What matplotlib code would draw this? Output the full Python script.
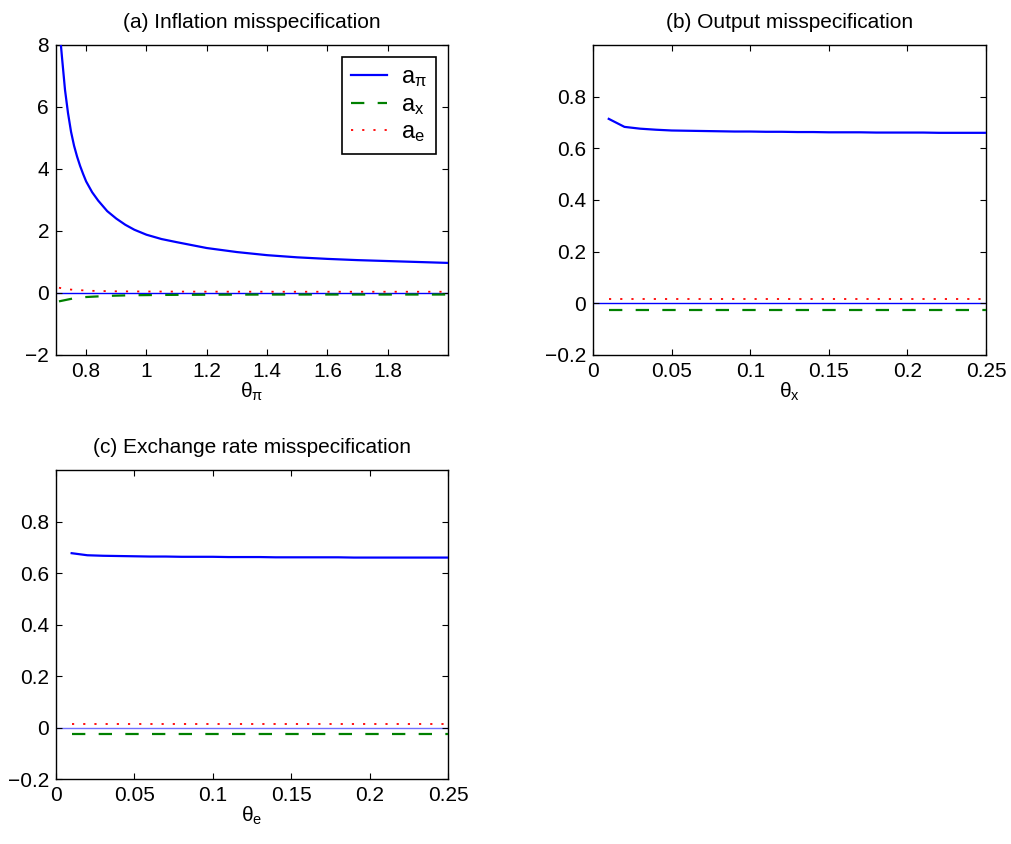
import matplotlib
matplotlib.use("Agg")
import matplotlib.pyplot as plt

plt.rcParams['font.family'] = ['Liberation Sans', 'DejaVu Sans']
plt.rcParams['mathtext.default'] = 'regular'
plt.rcParams['font.size'] = 15

# (a) inflation misspecification
theta_pi = [0.71, 0.72, 0.73, 0.74, 0.75, 0.76, 0.77, 0.78, 0.79, 0.80, 0.82, 0.84, 0.87, 0.90, 0.93, 0.96,
            1.00, 1.05, 1.10, 1.20, 1.30, 1.40, 1.50, 1.60, 1.70, 1.80, 1.90, 2.00]
a_pi_a = [8.7, 7.6, 6.55, 5.8, 5.2, 4.75, 4.4, 4.1, 3.84, 3.6, 3.25, 2.98, 2.64, 2.4, 2.2, 2.04,
          1.88, 1.74, 1.64, 1.45, 1.32, 1.22, 1.15, 1.10, 1.06, 1.03, 1.0, 0.97]
a_x_a = [-0.27, -0.25, -0.23, -0.21, -0.19, -0.17, -0.16, -0.15, -0.14, -0.13, -0.12, -0.11, -0.095, -0.085,
         -0.078, -0.072, -0.068, -0.063, -0.06, -0.056, -0.053, -0.051, -0.05, -0.05, -0.05, -0.05, -0.05, -0.05]
a_e_a = [0.17, 0.15, 0.14, 0.12, 0.11, 0.10, 0.095, 0.09, 0.085, 0.08, 0.07, 0.065, 0.06, 0.055,
         0.052, 0.05, 0.048, 0.046, 0.045, 0.043, 0.042, 0.041, 0.04, 0.04, 0.04, 0.04, 0.04, 0.04]

# (b) output misspecification and (c) exchange rate misspecification
theta_small = [0.01, 0.02, 0.03, 0.04, 0.05, 0.06, 0.07, 0.08, 0.09, 0.10, 0.11, 0.12, 0.13,
               0.14, 0.15, 0.16, 0.17, 0.18, 0.19, 0.20, 0.21, 0.22, 0.23, 0.24, 0.25]
a_pi_b = [0.714, 0.683, 0.676, 0.672, 0.669, 0.668, 0.667, 0.666, 0.665, 0.665, 0.664, 0.664, 0.663,
          0.663, 0.662, 0.662, 0.662, 0.661, 0.661, 0.661, 0.661, 0.660, 0.660, 0.660, 0.660]
a_x_b = [-0.026] * 25
a_e_b = [0.0155] * 25
a_pi_c = [0.677, 0.669, 0.667, 0.666, 0.665, 0.664, 0.664, 0.663, 0.663, 0.663, 0.662, 0.662, 0.662,
          0.661, 0.661, 0.661, 0.661, 0.661, 0.660, 0.660, 0.660, 0.660, 0.660, 0.660, 0.660]
a_x_c = [-0.024] * 25
a_e_c = [0.014] * 25

fig = plt.figure(figsize=(10.12, 8.44), dpi=100)


def panel(rect, x, api, ax_, ae, title, xlabel, xlim, ylim, xticks, yticks, xticklabels, zero_col):
    ax = fig.add_axes(rect)
    ax.axhline(0, color=zero_col, lw=1.0, zorder=1)
    ax.plot(x, api, color='#0000ff', lw=1.6, label=r'a$_\pi$', zorder=3)
    ax.plot(x, ax_, color='#008000', lw=1.6, dashes=(6, 6), label=r'a$_x$', zorder=3)
    ax.plot(x, ae, color='#ff0000', lw=1.3, dashes=(1.2, 5), label=r'a$_e$', zorder=3)
    ax.set_xlim(*xlim)
    ax.set_ylim(*ylim)
    ax.set_xticks(xticks)
    ax.set_xticklabels(xticklabels)
    ax.set_yticks(yticks)
    ax.set_yticklabels([('%g' % t).replace('-', '\u2212') for t in yticks])
    ax.tick_params(direction='in', top=True, right=True, length=4, width=0.8, labelsize=15, pad=5)
    for s in ax.spines.values():
        s.set_linewidth(1.0)
    ax.set_title(title, fontsize=15, pad=12)
    ax.set_xlabel(xlabel, fontsize=15, labelpad=0)
    return ax


ax1 = panel([0.0553, 0.5794, 0.3874, 0.3673], theta_pi, a_pi_a, a_x_a, a_e_a,
            '(a) Inflation misspecification', r'$\theta_\pi$', (0.7, 2.0), (-2, 8),
            [0.8, 1.0, 1.2, 1.4, 1.6, 1.8], [-2, 0, 2, 4, 6, 8],
            ['0.8', '1', '1.2', '1.4', '1.6', '1.8'], '#0000ff')
leg = ax1.legend(loc='upper right', fancybox=False, edgecolor='black', framealpha=1,
                 handlelength=1.5, fontsize=17, borderaxespad=0.5, labelspacing=0.2,
                 handletextpad=0.6, borderpad=0.4)
leg.get_frame().set_linewidth(1.2)

ticks_small = [0, 0.05, 0.1, 0.15, 0.2, 0.25]
labels_small = ['0', '0.05', '0.1', '0.15', '0.2', '0.25']
yt_small = [-0.2, 0, 0.2, 0.4, 0.6, 0.8]

panel([0.586, 0.5794, 0.3883, 0.3673], theta_small, a_pi_b, a_x_b, a_e_b,
      '(b) Output misspecification', r'$\theta_x$', (0, 0.25), (-0.2, 1.0),
      ticks_small, yt_small, labels_small, '#0000ff')

panel([0.0553, 0.0770, 0.3874, 0.3661], theta_small, a_pi_c, a_x_c, a_e_c,
      '(c) Exchange rate misspecification', r'$\theta_e$', (0, 0.25), (-0.2, 1.0),
      ticks_small, yt_small, labels_small, '#7070ff')

fig.savefig('out.png', dpi=100)
